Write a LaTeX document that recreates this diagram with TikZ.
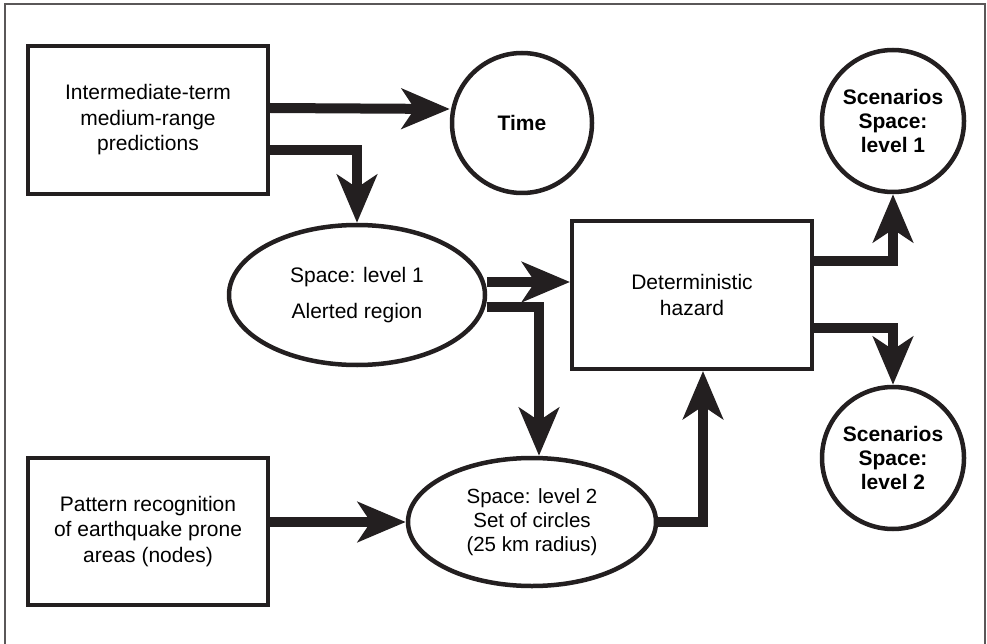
\documentclass[tikz,border=0pt]{standalone}
\usepackage{fontspec}
\setmainfont{Liberation Sans}
\usetikzlibrary{arrows.meta,shapes.geometric,calc}
\definecolor{ink}{RGB}{35,31,32}

\begin{document}
\begin{tikzpicture}[x=1pt,y=-1pt,
          font=\fontsize{21}{25.5}\selectfont,
          every node/.style={align=center,inner sep=0pt},
          box/.style={draw=ink,line width=4pt,minimum width=240pt,minimum height=148pt},
          oval/.style={draw=ink,line width=4.5pt,ellipse},
          disc/.style={draw=ink,line width=4.5pt,circle,font=\fontsize{21}{24}\selectfont\bfseries},
          bigarrow/.style={draw=ink,line width=10pt,line join=miter,
            -{Stealth[length=48pt,width=40pt,inset=13pt]}}]
          \useasboundingbox (0,0) rectangle (987,644);
          \draw[line width=1.5pt,ink!75] (5,644) -- (5,4) -- (985,4) -- (985,644);

          \node[box] (itm) at (148,120) {Intermediate-term\\medium-range\\predictions};
          \node[disc,minimum size=140pt] (time) at (522,123) {Time};
          \node[oval,minimum width=256pt,minimum height=140pt] (space1) at (357,295)
            {Space: level 1\\[11pt]Alerted region};
          \node[box] (hazard) at (692,295) {Deterministic\\hazard};
          \node[box,minimum height=147pt] (pattern) at (148,531.5)
            {Pattern recognition\\of earthquake prone\\areas (nodes)};
          \node[oval,minimum width=248pt,minimum height=128pt,font=\fontsize{20.5}{24}\selectfont]
            (space2) at (532,522) {Space: level 2\\Set of circles\\(25 km radius)};
          \node[disc,minimum size=142pt] (scen1) at (893,121) {Scenarios\\Space:\\level 1};
          \node[disc,minimum size=142pt] (scen2) at (893,458) {Scenarios\\Space:\\level 2};

          \draw[bigarrow] ($(itm.east)+(0,-12)$) -- ($(time.west)+(0,-14)$);
          \draw[bigarrow] ($(itm.east)+(0,30)$) -| (space1.north);
          \draw[bigarrow] ($(space1.east)+(0,-13)$) -- ($(hazard.west)+(0,-13)$);
          \draw[bigarrow] ($(space1.east)+(0,12)$) -| ($(space2.north)+(7,0)$);
          \draw[bigarrow] (pattern.east |- space2.west) -- (space2.west);
          \draw[bigarrow] (space2.east) -| ($(hazard.south)+(11,0)$);
          \draw[bigarrow] ($(hazard.east)+(0,-34)$) -| (scen1.south);
          \draw[bigarrow] ($(hazard.east)+(0,33)$) -| (scen2.north);
        \end{tikzpicture}
\end{document}
